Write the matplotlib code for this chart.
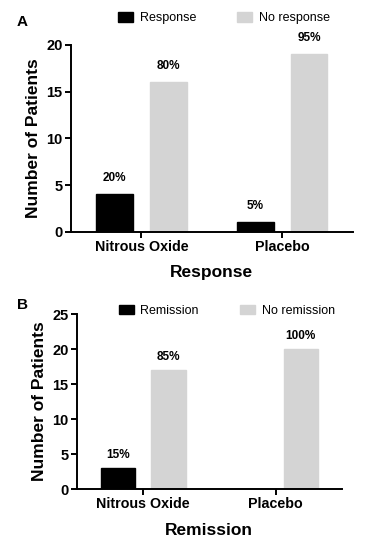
import numpy as np
import matplotlib.pyplot as plt
from matplotlib.patches import Patch

plt.rcParams['font.family'] = ['Liberation Sans', 'DejaVu Sans']

# ____________________ DATA ____________________
groups = ['Nitrous Oxide', 'Placebo']

resp_yes = [4, 1]
resp_no = [16, 19]
resp_yes_pct = ['20%', '5%']
resp_no_pct = ['80%', '95%']

rem_yes = [3, 0]
rem_no = [17, 20]
rem_yes_pct = ['15%', '']
rem_no_pct = ['85%', '100%']

GREY = '#d4d4d4'


def panel(fig, rect, yes, no, yes_pct, no_pct, ymax, xlabel, labels, tag, tag_y, leg_xy, off, colsp):
    ax = fig.add_axes(rect)
    x = np.arange(len(groups))
    w = 0.26
    b1 = ax.bar(x - 0.19, yes, w, color='black', edgecolor='black')
    b2 = ax.bar(x + 0.19, no, w, color=GREY, edgecolor=GREY)
    for bars, txt in [(b1, yes_pct), (b2, no_pct)]:
        for b, t in zip(bars, txt):
            if t:
                ax.annotate(t, (b.get_x() + b.get_width() / 2, b.get_height()),
                            xytext=(0, off), textcoords='offset points',
                            ha='center', va='center', fontsize=8.5, fontweight='bold')
    ax.set_xlim(-0.5, 1.5)
    ax.set_ylim(0, ymax)
    ax.set_yticks(np.arange(0, ymax + 1, 5))
    ax.set_xticks(x)
    ax.set_xticklabels(groups, fontsize=10.3, fontweight='bold')
    for t in ax.get_yticklabels():
        t.set_fontweight('bold')
        t.set_fontsize(10.5)
    ax.spines['top'].set_visible(False)
    ax.spines['right'].set_visible(False)
    for s in ['left', 'bottom']:
        ax.spines[s].set_linewidth(1.4)
    ax.tick_params(width=1.4, length=4, pad=2)
    ax.set_ylabel('Number of Patients', fontsize=12.5, fontweight='bold')
    ax.set_xlabel(xlabel, fontsize=12.5, fontweight='bold', labelpad=8)
    handles = [Patch(facecolor='black', edgecolor='black'),
               Patch(facecolor=GREY, edgecolor=GREY)]
    fig.legend(handles, labels, loc='center', bbox_to_anchor=leg_xy, ncol=2,
               frameon=False, fontsize=9, handlelength=1.2, handleheight=0.8,
               handletextpad=0.55, columnspacing=colsp)
    fig.text(0.046, tag_y, tag, fontsize=11, fontweight='bold', ha='left', va='center')
    return ax


fig = plt.figure(figsize=(3.66, 5.52), dpi=100)

panel(fig, [0.194, 0.58, 0.77, 0.3385], resp_yes, resp_no, resp_yes_pct, resp_no_pct,
      20, 'Response', ['Response', 'No response'], 'A', 0.96, (0.612, 0.967), 12, 3.3)
panel(fig, [0.210, 0.114, 0.724, 0.317], rem_yes, rem_no, rem_yes_pct, rem_no_pct,
      25, 'Remission', ['Remission', 'No remission'], 'B', 0.447, (0.62, 0.437), 9.5, 3.3)

plt.savefig('out.png', dpi=100)
